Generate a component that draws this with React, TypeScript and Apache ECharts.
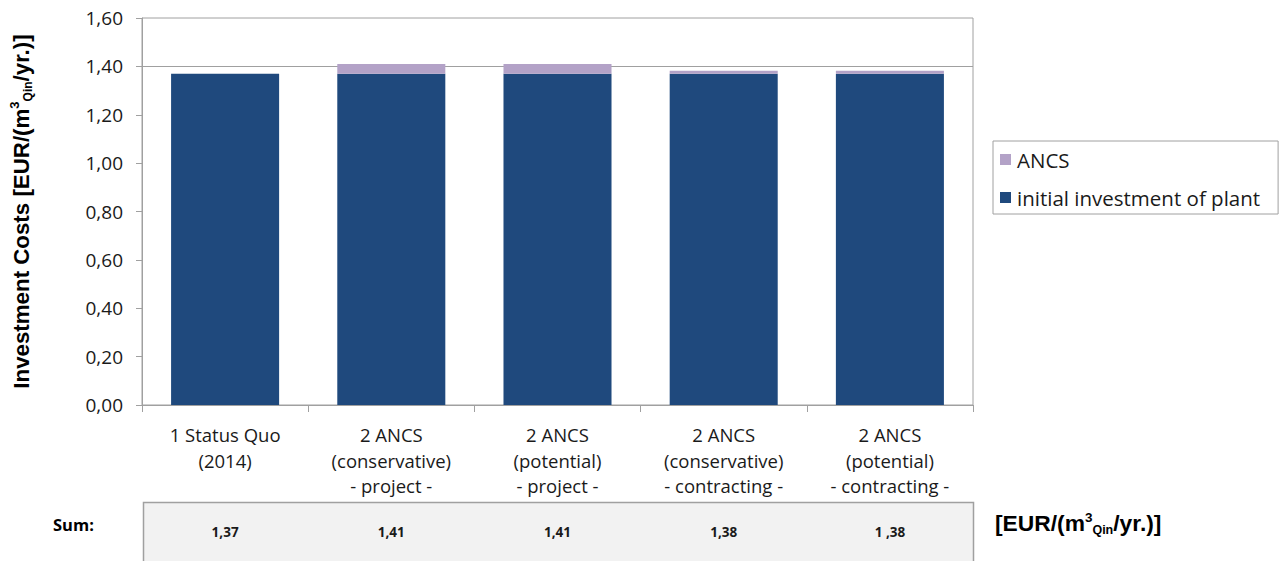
import React, { useEffect, useRef } from "react";
import * as echarts from "echarts";

const categories = [
  "1 Status Quo\n(2014)",
  "2 ANCS\n(conservative)\n- project -",
  "2 ANCS\n(potential)\n- project -",
  "2 ANCS\n(conservative)\n- contracting -",
  "2 ANCS\n(potential)\n- contracting -",
];
const initialInvestment = [1.37, 1.37, 1.37, 1.37, 1.37];
const ancs = [0, 0.04, 0.04, 0.012, 0.012];
const sums = ["1,37", "1,41", "1,41", "1,38", "1 ,38"];
const yTicks = { min: 0, max: 1.6, interval: 0.2 };

const FONT = "'Open Sans', 'Liberation Sans', sans-serif";
const BOLD = "'Liberation Sans', Arial, sans-serif";

export default function App() {
  const ref = useRef<HTMLDivElement>(null);
  useEffect(() => {
    if (!ref.current) return;
    const chart = echarts.init(ref.current, undefined, { renderer: "svg" });
    const splitColors = [] as string[];
    for (let v = yTicks.min, i = 0; v <= yTicks.max + 1e-9; v += yTicks.interval, i++) {
      splitColors.push(Math.abs(v - 1.4) < 1e-6 ? "#a0a0a0" : "rgba(0,0,0,0)");
    }
    chart.setOption({
      animation: false,
      textStyle: { fontFamily: FONT },
      grid: {
        left: 140,
        top: 18,
        right: 314,
        bottom: 156,
        show: true,
        borderColor: "#a0a0a0",
        borderWidth: 1,
      },
      legend: {
        orient: "vertical",
        left: 993,
        top: 141,
        data: ["ANCS", "initial investment of plant"],
        icon: "rect",
        itemWidth: 11,
        itemHeight: 11,
        itemGap: 15,
        padding: [7, 18, 5, 7],
        borderColor: "#a0a0a0",
        borderWidth: 1,
        textStyle: { fontFamily: FONT, fontSize: 20.5, color: "#1a1a1a", lineHeight: 23, padding: [0, 0, 0, 1] },
      },
      xAxis: [
        {
          type: "category",
          data: categories,
          axisLine: { lineStyle: { color: "#a0a0a0" } },
          axisTick: { show: true, length: 7, lineStyle: { color: "#a0a0a0" } },
          axisLabel: {
            color: "#1a1a1a",
            fontFamily: FONT,
            fontSize: 18.5,
            lineHeight: 25.5,
            margin: 17,
            interval: 0,
          },
        },
        {
          type: "category",
          position: "bottom",
          data: sums,
          offset: 127,
          axisLine: { show: false },
          axisTick: { show: false },
          axisLabel: {
            color: "#1a1a1a",
            fontFamily: FONT,
            fontSize: 13.5,
            fontWeight: "bold",
            margin: 0,
            verticalAlign: "middle",
            interval: 0,
          },
        },
      ],
      yAxis: {
        type: "value",
        min: yTicks.min,
        max: yTicks.max,
        interval: yTicks.interval,
        axisLine: { show: true, lineStyle: { color: "#a0a0a0" } },
        axisTick: { show: true, length: 6, lineStyle: { color: "#a0a0a0" } },
        splitLine: { show: true, lineStyle: { color: splitColors, width: 1 } },
        axisLabel: {
          color: "#1a1a1a",
          fontFamily: FONT,
          fontSize: 19,
          margin: 19,
          formatter: (v: number) => v.toFixed(2).replace(".", ","),
        },
        name: "{t|Investment Costs [EUR/(m}{sup|3}{sub|Qin}{t|/yr.)]}",
        nameLocation: "middle",
        nameGap: 108,
        nameTextStyle: {
          rich: {
            t: { fontFamily: BOLD, fontSize: 22.3, fontWeight: "bold", color: "#000", lineHeight: 26 },
            sup: { fontFamily: BOLD, fontSize: 13, fontWeight: "bold", color: "#000", verticalAlign: "top", lineHeight: 26 },
            sub: { fontFamily: BOLD, fontSize: 12, fontWeight: "bold", color: "#000", verticalAlign: "bottom", lineHeight: 22 },
          },
        },
      },
      series: [
        {
          name: "initial investment of plant",
          type: "bar",
          stack: "total",
          data: initialInvestment,
          barCategoryGap: "35%",
          itemStyle: { color: "#1f497d" },
        },
        {
          name: "ANCS",
          type: "bar",
          stack: "total",
          data: ancs,
          itemStyle: { color: "#b3a2c7" },
        },
      ],
      graphic: [
        {
          type: "rect",
          z: -10,
          shape: { x: 143.5, y: 502.5, width: 830, height: 80 },
          style: { fill: "#f2f2f2", stroke: "#a0a0a0", lineWidth: 1.5 },
        },
        {
          type: "text",
          x: 53,
          y: 516,
          style: { text: "Sum:", fontFamily: FONT, fontSize: 16.5, fontWeight: "bold", fill: "#000" },
        },
        {
          type: "text",
          x: 995,
          y: 510,
          style: {
            text: "{t|[EUR/(m}{sup|3}{sub|Qin}{t|/yr.)]}",
            rich: {
              t: { fontFamily: BOLD, fontSize: 22.8, fontWeight: "bold", fill: "#000", lineHeight: 26 },
              sup: { fontFamily: BOLD, fontSize: 13.5, fontWeight: "bold", fill: "#000", verticalAlign: "top", lineHeight: 26 },
              sub: { fontFamily: BOLD, fontSize: 12.5, fontWeight: "bold", fill: "#000", verticalAlign: "bottom", lineHeight: 22 },
            },
          },
        },
      ],
    });
    return () => chart.dispose();
  }, []);
  return <div ref={ref} style={{ width: 1287, height: 561, position: "absolute", left: 0, top: 0 }} />;
}
